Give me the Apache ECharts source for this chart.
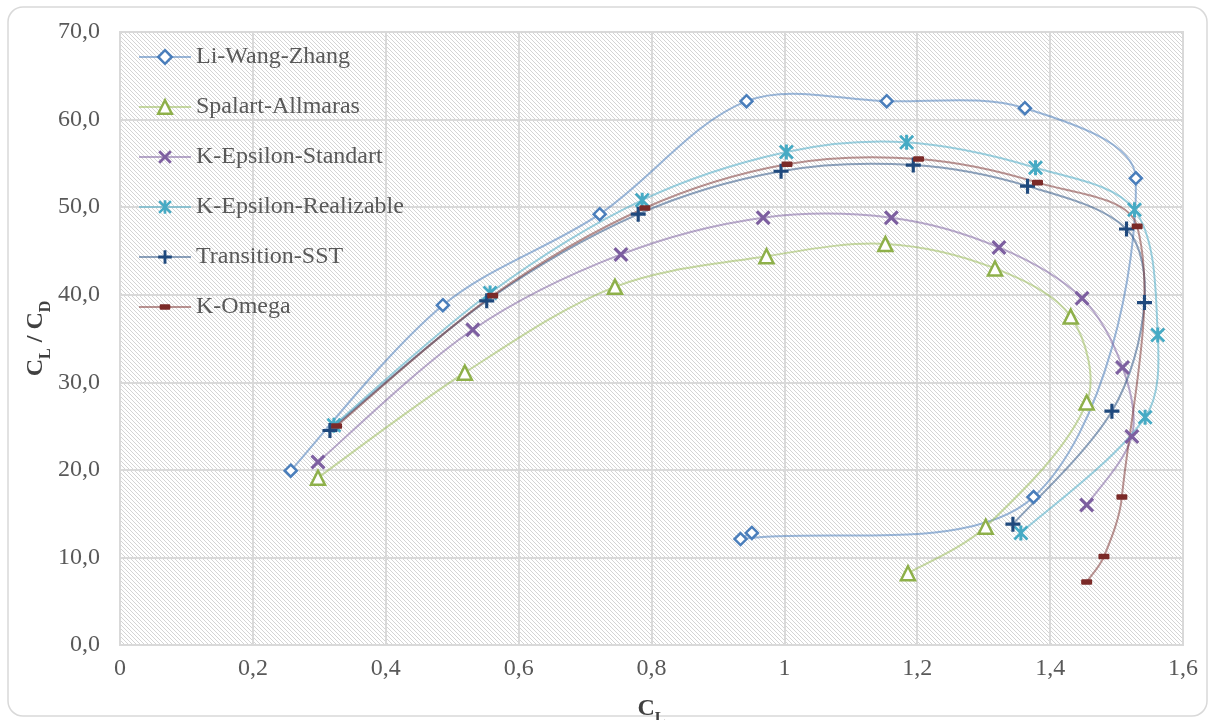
<!DOCTYPE html>
<html>
<head>
<meta charset="utf-8">
<script src="https://cdn.jsdelivr.net/npm/echarts@6/dist/echarts.min.js"></script>
<style>
  html, body { margin: 0; padding: 0; background: #ffffff; }
  #chart { width: 1215px; height: 720px; }
</style>
</head>
<body>
<div id="chart"></div>
<script>
// Lift coefficient (C_L) and lift-to-drag ratio (C_L / C_D) for each turbulence model
const seriesNames = ['Li-Wang-Zhang', 'Spalart-Allmaras', 'K-Epsilon-Standart', 'K-Epsilon-Realizable', 'Transition-SST', 'K-Omega'];

const liWangZhangCL = [0.257, 0.486, 0.722, 0.943, 1.154, 1.362, 1.529, 1.375, 0.934, 0.951];
const liWangZhangLD = [19.9, 38.8, 49.2, 62.1, 62.1, 61.3, 53.3, 16.9, 12.1, 12.8];

const spalartCL = [0.298, 0.519, 0.745, 0.973, 1.152, 1.317, 1.431, 1.455, 1.303, 1.186];
const spalartLD = [19.1, 31.1, 40.9, 44.4, 45.8, 43.0, 37.5, 27.7, 13.5, 8.2];

const kEpsStdCL = [0.298, 0.531, 0.754, 0.968, 1.161, 1.323, 1.448, 1.509, 1.523, 1.455];
const kEpsStdLD = [20.9, 36.0, 44.6, 48.8, 48.8, 45.4, 39.6, 31.7, 23.8, 16.0];

const kEpsRealCL = [0.322, 0.557, 0.786, 1.003, 1.184, 1.378, 1.527, 1.562, 1.543, 1.356];
const kEpsRealLD = [25.1, 40.2, 50.8, 56.3, 57.4, 54.5, 49.7, 35.4, 26.0, 12.8];

const transSstCL = [0.316, 0.552, 0.780, 0.995, 1.194, 1.366, 1.515, 1.542, 1.493, 1.344];
const transSstLD = [24.5, 39.3, 49.2, 54.1, 54.8, 52.4, 47.5, 39.1, 26.7, 13.8];

const kOmegaCL = [0.326, 0.561, 0.790, 1.004, 1.202, 1.381, 1.531, 1.508, 1.481, 1.455];
const kOmegaLD = [25.0, 39.9, 49.9, 54.9, 55.5, 52.8, 47.8, 16.9, 10.1, 7.2];

function pairs(xs, ys) { return xs.map((x, i) => [x, ys[i]]); }

// marker shapes (20x20 design box)
const SYM_X = 'path://M0,3 L3,0 L10,7 L17,0 L20,3 L13,10 L20,17 L17,20 L10,13 L3,20 L0,17 L7,10 Z';
const SYM_STAR = 'path://M0,2.6 L2.6,0 L10,7.4 L17.4,0 L20,2.6 L12.6,10 L20,17.4 L17.4,20 L10,12.6 L2.6,20 L0,17.4 L7.4,10 Z M8,0 L12,0 L12,20 L8,20 Z';
const SYM_PLUS = 'path://M7.9,0 L12.1,0 L12.1,7.9 L20,7.9 L20,12.1 L12.1,12.1 L12.1,20 L7.9,20 L7.9,12.1 L0,12.1 L0,7.9 L7.9,7.9 Z';
// rounded dash centred in a 14x14 box (tiny corner specks fix the box size)
const SYM_DASH = 'path://M0,0 L0.01,0 L0,0.01 Z M14,14 L13.99,14 L14,13.99 Z ' +
  'M2.7,4.2 L11.3,4.2 Q12.5,4.2 12.5,5.4 L12.5,8.6 Q12.5,9.8 11.3,9.8 L2.7,9.8 Q1.5,9.8 1.5,8.6 L1.5,5.4 Q1.5,4.2 2.7,4.2 Z';

// diagonal hatch for the plot area
const hatch = document.createElement('canvas');
hatch.width = 4; hatch.height = 4;
(function () {
  const c = hatch.getContext('2d');
  c.fillStyle = '#ffffff';
  c.fillRect(0, 0, 4, 4);
  c.fillStyle = '#d4d4d4';
  for (let i = 0; i < 4; i++) c.fillRect(i, i, 1, 1);
})();

const styles = [
  { data: pairs(liWangZhangCL, liWangZhangLD), symbol: 'diamond', size: 12, mark: '#4a7ebb', line: 'rgba(74,126,187,0.55)', hollow: true },
  { data: pairs(spalartCL, spalartLD), symbol: 'triangle', size: 14, mark: '#8eb04a', line: 'rgba(155,187,89,0.55)', hollow: true },
  { data: pairs(kEpsStdCL, kEpsStdLD), symbol: SYM_X, size: 15, mark: '#7d5fa0', line: 'rgba(128,100,162,0.55)' },
  { data: pairs(kEpsRealCL, kEpsRealLD), symbol: SYM_STAR, size: 15, mark: '#46aac4', line: 'rgba(75,172,198,0.55)' },
  { data: pairs(transSstCL, transSstLD), symbol: SYM_PLUS, size: 15, mark: '#1f497d', line: 'rgba(31,73,125,0.5)' },
  { data: pairs(kOmegaCL, kOmegaLD), symbol: SYM_DASH, size: 14, mark: '#7b2a28', line: 'rgba(119,44,42,0.5)' }
];

// smooth curve through the data points: Bezier segments whose tangents are
// weighted by the neighbouring segment lengths (keeps short segments tight)
function curveRenderer(data, color) {
  const k = 1 / 3;
  const dist = (a, b) => Math.hypot(b[0] - a[0], b[1] - a[1]) || 1e-6;
  return function (params, api) {
    if (params.dataIndex !== 0) return;
    const p = data.map(d => api.coord(d));
    const n = p.length;
    const children = [];
    for (let i = 0; i < n - 1; i++) {
      const p0 = p[i - 1] || p[i], p1 = p[i], p2 = p[i + 1], p3 = p[i + 2] || p[i + 1];
      const d01 = dist(p0, p1), d12 = dist(p1, p2), d23 = dist(p2, p3);
      const r1 = i === 0 ? 0.5 : d12 / (d01 + d12);
      const r2 = i === n - 2 ? 0.5 : d12 / (d12 + d23);
      children.push({
        type: 'bezierCurve',
        shape: {
          x1: p1[0], y1: p1[1], x2: p2[0], y2: p2[1],
          cpx1: p1[0] + (p2[0] - p0[0]) * k * r1, cpy1: p1[1] + (p2[1] - p0[1]) * k * r1,
          cpx2: p2[0] - (p3[0] - p1[0]) * k * r2, cpy2: p2[1] - (p3[1] - p1[1]) * k * r2
        },
        style: { stroke: color, lineWidth: 2, fill: null }
      });
    }
    return { type: 'group', children };
  };
}

const serif = '"Liberation Serif", "Times New Roman", serif';
const fmtComma = v => String(+(+v).toFixed(1)).replace('.', ',');
const nameRich = {
  b: { fontFamily: serif, fontWeight: 'bold', fontSize: 24, color: '#404040', padding: [0, 0, 6, 0], verticalAlign: 'bottom' },
  s: { fontFamily: serif, fontWeight: 'bold', fontSize: 16, color: '#404040', verticalAlign: 'bottom' }
};

const curveSeries = styles.map((s, i) => ({
  name: seriesNames[i],
  type: 'custom',
  data: s.data,
  encode: { x: 0, y: 1 },
  z: 2,
  silent: true,
  renderItem: curveRenderer(s.data, s.line)
}));

const markerSeries = styles.map((s, i) => ({
  name: seriesNames[i],
  type: 'line',
  data: s.data,
  z: 3,
  symbol: s.symbol,
  symbolSize: s.size,
  showAllSymbol: true,
  clip: false,
  lineStyle: { color: s.line, width: 2, opacity: 0 },
  itemStyle: s.hollow
    ? { color: '#ffffff', borderColor: s.mark, borderWidth: 2.5 }
    : { color: s.mark, borderWidth: 0 },
  emphasis: { disabled: true }
}));

const chart = echarts.init(document.getElementById('chart'), null, { renderer: 'canvas' });

chart.setOption({
  backgroundColor: '#ffffff',
  animation: false,
  graphic: [{
    type: 'rect',
    z: -10,
    shape: { x: 8, y: 7, width: 1199, height: 709, r: 15 },
    style: { fill: 'none', stroke: '#d9d9d9', lineWidth: 1.5 }
  }],
  grid: {
    left: 120, right: 32, top: 32, bottom: 75,
    outerBoundsMode: 'none',
    containLabel: false,
    show: true,
    backgroundColor: { image: hatch, repeat: 'repeat' },
    borderColor: '#d9d9d9', borderWidth: 2
  },
  legend: {
    orient: 'vertical',
    left: 133, top: 40,
    itemWidth: 52, itemHeight: 17, itemGap: 26,
    textStyle: { fontFamily: serif, fontSize: 24, color: '#595959', lineHeight: 24 },
    data: styles.map((s, i) => ({
      name: seriesNames[i],
      lineStyle: { color: s.line, width: 2, opacity: 1 },
      itemStyle: s.hollow ? { borderWidth: 2.5 } : {}
    }))
  },
  xAxis: {
    type: 'value', min: 0, max: 1.6, interval: 0.2,
    name: '{b|C}{s|L}',
    nameLocation: 'middle', nameGap: 52,
    nameTextStyle: { rich: nameRich },
    axisLine: { show: true, lineStyle: { color: '#d9d9d9', width: 2 } },
    axisTick: { show: false },
    axisLabel: { fontFamily: serif, fontSize: 24, color: '#595959', margin: 12, formatter: fmtComma },
    splitLine: { show: true, lineStyle: { color: '#d9d9d9', width: 2 } }
  },
  yAxis: {
    type: 'value', min: 0, max: 70, interval: 10,
    name: '{b|C}{s|L}{b| / C}{s|D}',
    nameLocation: 'middle', nameGap: 66, nameRotate: 90,
    nameMoveOverlap: false,
    nameTextStyle: { rich: nameRich },
    axisLine: { show: true, lineStyle: { color: '#d9d9d9', width: 2 } },
    axisTick: { show: false },
    axisLabel: { fontFamily: serif, fontSize: 24, color: '#595959', margin: 20, formatter: v => (+v).toFixed(1).replace('.', ',') },
    splitLine: { show: true, lineStyle: { color: '#d9d9d9', width: 2 } }
  },
  series: markerSeries.concat(curveSeries)
});
</script>
</body>
</html>
